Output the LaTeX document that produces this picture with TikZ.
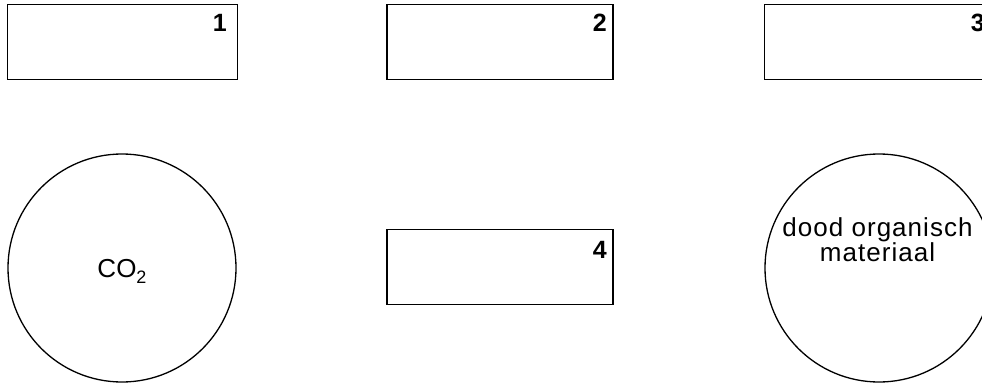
\documentclass[tikz,border=0pt]{standalone}
\usepackage{fontspec}
\setmainfont{Liberation Sans}
\newfontfamily\spacedfont[LetterSpace=4]{Liberation Sans}
\begin{document}
\begin{tikzpicture}[x=1pt,y=-1pt,
  boxstyle/.style={draw=black, line width=1.6pt, fill=white},
  ringstyle/.style={draw=black, line width=1.3pt, circle, minimum size=228pt, inner sep=0pt},
  numstyle/.style={font=\fontsize{25}{25}\selectfont\bfseries, anchor=base east, inner sep=0pt},
  labelstyle/.style={font=\fontsize{26}{25}\selectfont, inner sep=0pt}]
\useasboundingbox (0,0) rectangle (982,385);
\clip (0,0) rectangle (982,385);
% top boxes
\draw[boxstyle] (7.5,4.5) rectangle (237.5,79.5);
\draw[boxstyle] (387,4.5) rectangle (613,79.5);
\draw[boxstyle] (764.5,4.5) rectangle (1000,79.5);
\draw[boxstyle] (387,229.5) rectangle (613,304.5);
\node[numstyle] (n1) at (227,32) {1};
\node[numstyle] (n2) at (607,32) {2};
\node[numstyle] (n3) at (985,32) {3};
\node[numstyle] (n4) at (607,258) {4};
% circles
\node[ringstyle] (co2) at (122,268) {};
\node[ringstyle] (dom) at (879,268) {};
\node[labelstyle, anchor=base] (co2t) at (122,277.5) {CO\raisebox{-0.22em}{\fontsize{18}{18}\selectfont 2}};
\node[labelstyle, align=center, anchor=base, font=\fontsize{26}{25}\selectfont\spacedfont] (domt) at (877.5,261.5) {dood organisch\\materiaal};
\end{tikzpicture}
\end{document}
